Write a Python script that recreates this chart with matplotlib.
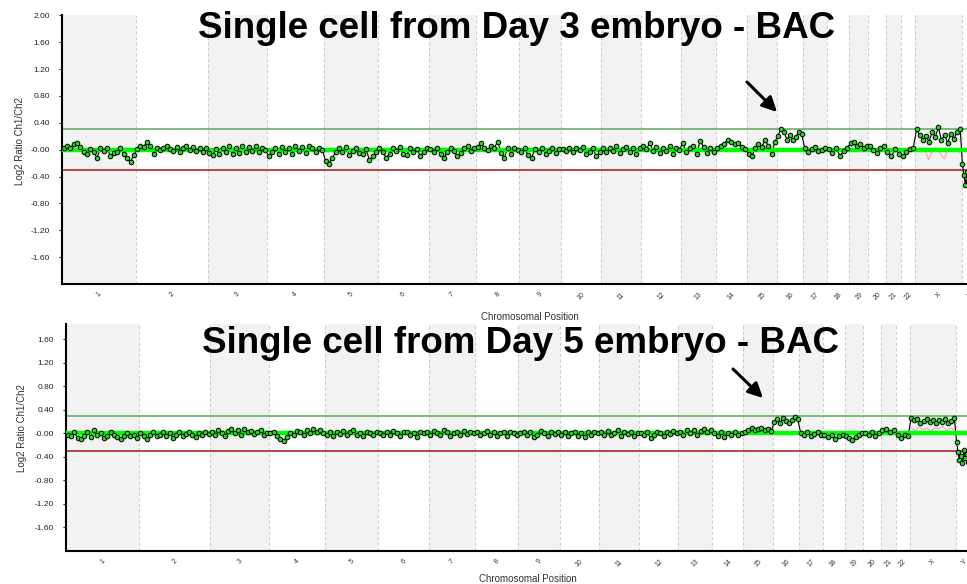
import numpy as np
import matplotlib
matplotlib.use('Agg')
import matplotlib.pyplot as plt
from matplotlib.patches import FancyArrowPatch

plt.rcParams['font.family'] = ['Liberation Sans', 'DejaVu Sans']

# chromosome names and (display) sizes in Mb
chrom_names = [str(i) for i in range(1, 23)] + ['X', 'Y']
chrom_size = [247, 243, 199, 191, 181, 171, 159, 146, 140, 135, 135, 133,
              116, 105, 100, 89, 80, 75, 64, 58, 52, 47, 157, 58]

# segment levels (thick green line), one per chromosome
seg_day3 = [0.0] * 24
seg_day5 = [0.0] * 24

# log2 ratio points per chromosome - Day 3 embryo
day3 = [
    [0.02, 0.05, 0.03, 0.08, 0.10, 0.04, -0.03, -0.06, 0.01, -0.04, -0.12, 0.02, -0.02, 0.03, -0.10, -0.05, -0.04, 0.02, -0.07, -0.12, -0.18, -0.08],
    [0.01, 0.06, 0.04, 0.12, 0.05, -0.06, 0.02, -0.01, 0.03, 0.05, 0.01, -0.02, 0.04, -0.03, 0.02, 0.06, 0.00, 0.04, -0.02, 0.03, -0.04, 0.02],
    [-0.05, -0.08, 0.01, -0.06, 0.03, -0.04, 0.05, -0.07, 0.02, -0.05, 0.06, -0.03, 0.04, -0.02, 0.05, -0.04, 0.03, -0.01],
    [-0.09, -0.04, 0.02, -0.06, 0.04, -0.03, 0.03, -0.07, 0.05, -0.02, 0.04, -0.05, 0.06, 0.02, -0.03, 0.03, 0.00],
    [-0.17, -0.21, -0.12, -0.04, 0.02, -0.03, 0.04, -0.08, -0.02, 0.03, -0.05, -0.07, 0.01, -0.15, -0.10, -0.03],
    [0.02, -0.04, -0.12, -0.06, 0.03, -0.02, 0.04, -0.06, -0.08, 0.02, -0.03, 0.01, -0.09, -0.04, 0.02],
    [0.01, -0.03, 0.03, -0.06, -0.12, -0.04, 0.02, -0.02, -0.10, -0.05, 0.03, 0.05, -0.02, 0.02],
    [0.04, 0.10, 0.02, -0.01, 0.05, 0.03, 0.12, -0.05, -0.12, 0.03, -0.06, 0.02, 0.00],
    [-0.03, 0.02, -0.08, -0.12, 0.01, -0.04, 0.03, -0.06, -0.02, 0.02, -0.05, 0.01],
    [0.01, -0.02, 0.03, -0.04, 0.02, -0.01, 0.04, -0.07, -0.03, 0.02, -0.10, -0.04],
    [0.02, -0.04, 0.03, -0.02, 0.05, -0.05, 0.01, 0.04, -0.03, 0.02, -0.06, 0.03],
    [0.05, 0.01, 0.10, -0.02, 0.04, -0.05, 0.02, -0.02, 0.06, -0.06, 0.03, 0.00],
    [0.10, -0.04, 0.02, 0.05, -0.07, 0.13, 0.04, -0.05, 0.02, -0.03],
    [0.02, 0.06, 0.09, 0.15, 0.12, 0.08, 0.10, 0.04, 0.01],
    [-0.06, -0.10, 0.02, 0.09, 0.04, 0.14, 0.06, -0.06, 0.12],
    [0.21, 0.31, 0.27, 0.15, 0.22, 0.14, 0.19, 0.26, 0.23],
    [0.02, -0.03, 0.01, 0.04, -0.02, 0.00, 0.03],
    [0.01, -0.05, 0.02, -0.09, -0.02, 0.03],
    [0.10, 0.12, 0.06, 0.09, 0.02, 0.05],
    [0.05, 0.00, -0.05, 0.03, 0.06],
    [-0.04, -0.10, 0.01, -0.06],
    [-0.09, -0.03, 0.01, 0.03],
    [0.30, 0.22, 0.15, 0.21, 0.12, 0.26, 0.19, 0.33, 0.14, 0.22, 0.10, 0.24, 0.16, 0.27, 0.31],
    [-0.22, -0.38, -0.52, -0.33, -0.47, -0.41, -0.30, -0.45, -0.36, -0.50, -0.28, -0.40],
]

# log2 ratio points per chromosome - Day 5 embryo
day5 = [
    [-0.02, -0.05, 0.02, -0.07, -0.10, -0.04, 0.03, -0.06, 0.05, -0.03, 0.01, -0.08, -0.04, 0.02, -0.03, -0.06, -0.09, -0.04, 0.01, -0.05, -0.02, -0.07],
    [0.00, -0.04, -0.10, -0.03, 0.02, -0.05, -0.02, 0.03, -0.04, 0.01, -0.07, -0.03, 0.02, -0.05, -0.01, 0.03, -0.02, -0.06, 0.01, -0.03, 0.02, -0.01],
    [0.02, -0.03, 0.05, 0.01, -0.04, 0.04, 0.07, 0.00, 0.05, -0.02, 0.08, 0.03, 0.04, -0.01, 0.02, 0.05, -0.03, 0.01],
    [0.00, 0.03, -0.05, -0.09, -0.13, -0.06, 0.01, -0.03, 0.04, 0.02, -0.02, 0.05, 0.01, 0.07, 0.03, 0.05, 0.01],
    [-0.02, 0.02, -0.04, 0.03, -0.01, 0.04, -0.03, 0.02, 0.05, -0.02, 0.01, -0.05, 0.02, 0.00, -0.03, 0.03],
    [0.01, -0.03, 0.03, -0.02, 0.04, 0.00, -0.05, 0.02, 0.03, -0.02, 0.01, -0.06, 0.02, 0.00, 0.03],
    [-0.02, 0.04, 0.01, -0.03, 0.05, 0.02, -0.04, 0.00, 0.03, -0.02, 0.04, -0.01, 0.02, 0.01],
    [0.02, -0.03, 0.01, 0.04, -0.02, 0.03, -0.05, 0.00, 0.02, -0.04, 0.03, 0.01, -0.02],
    [0.00, 0.03, -0.03, 0.02, -0.06, -0.02, 0.04, 0.01, -0.04, 0.02, -0.01, 0.03],
    [-0.03, 0.02, -0.05, 0.00, 0.03, -0.04, 0.01, -0.06, 0.02, -0.02, 0.03, 0.00],
    [0.02, -0.02, 0.04, -0.03, 0.01, 0.05, -0.04, 0.02, -0.01, 0.03, -0.05, 0.01],
    [0.00, -0.03, 0.02, -0.08, -0.02, 0.03, 0.01, -0.04, 0.02, -0.01, 0.04, 0.00],
    [0.03, -0.02, 0.05, 0.01, 0.06, -0.03, 0.04, 0.07, 0.02, 0.05],
    [0.00, -0.04, 0.02, -0.06, 0.01, -0.03, 0.03, -0.02, 0.01],
    [0.03, 0.06, 0.09, 0.05, 0.08, 0.10, 0.06, 0.07, 0.04],
    [0.19, 0.24, 0.18, 0.26, 0.21, 0.17, 0.23, 0.28, 0.25],
    [0.01, -0.03, 0.02, -0.05, -0.01, 0.03, -0.02],
    [-0.02, -0.06, -0.03, -0.09, -0.05, -0.02],
    [-0.04, -0.08, -0.11, -0.06, -0.03, 0.01],
    [0.01, -0.03, 0.02, -0.05, 0.00],
    [0.05, 0.08, 0.03, 0.06],
    [-0.03, -0.07, -0.02, -0.05],
    [0.27, 0.22, 0.24, 0.18, 0.21, 0.25, 0.19, 0.23, 0.17, 0.22, 0.20, 0.24, 0.18, 0.21, 0.26],
    [-0.15, -0.32, -0.46, -0.38, -0.50, -0.28, -0.42, -0.35, -0.48, -0.30, -0.44, -0.37],
]

# faint dye-swap trace on chromosome X (pink)
pink_x_day3 = [0.02, -0.04, 0.01, -0.15, -0.02, 0.03, -0.06, -0.14, 0.00, -0.03, 0.02, -0.05]
pink_x_day5 = [0.08, 0.05, 0.11, 0.06, 0.09, 0.04, 0.10, 0.07, 0.12, 0.05, 0.09, 0.06]

ytick_vals_top = [2.0, 1.6, 1.2, 0.8, 0.4, 0.0, -0.4, -0.8, -1.2, -1.6]
ytick_lbls_top = ['2.00', '1.60', '1.20', '0.80', '0.40', '-0.00', '-0.40', '-0.80', '-1.20', '-1.60']
ytick_vals_bot = ytick_vals_top[1:]
ytick_lbls_bot = ytick_lbls_top[1:]

gain_cut = 0.3
loss_cut = -0.3

titles = ['Single cell from Day 3 embryo - BAC', 'Single cell from Day 5 embryo - BAC']

W, H = 967, 584
fig = plt.figure(figsize=(W / 100, H / 100), dpi=100)

starts = np.concatenate([[0], np.cumsum(chrom_size)[:-1]])
ends = np.cumsum(chrom_size)
centers = starts + np.array(chrom_size) / 2
total = ends[-1]


def px_axes(left, right, top, bottom):
    return fig.add_axes([left / W, 1 - bottom / H, (right - left) / W, (bottom - top) / H])


def spread(i, vals):
    n = len(vals)
    return starts[i] + chrom_size[i] * (np.arange(n) + 0.5) / n


def draw_panel(ax, pts, seg, pink_x, ylo, yhi, yt, ytl, xlab_xy, ylab_xy):
    for i in range(len(chrom_size)):
        if i % 2 == 0:
            ax.axvspan(starts[i], ends[i], color='#f2f2f2', lw=0, zorder=0)
        ax.axvline(ends[i], color='#cfcfcf', lw=0.8, ls=(0, (3, 2)), zorder=1)
    ax.axhline(gain_cut, color='#5aaa5a', lw=1.1, zorder=2)
    ax.axhline(loss_cut, color='#a51515', lw=1.1, zorder=2)

    ax.plot(spread(22, pink_x), pink_x, color='#f0a8b8', lw=0.8, zorder=2)

    xs, ys = [], []
    for i, vals in enumerate(pts):
        xs.extend(spread(i, vals))
        ys.extend(vals)
    ax.plot(xs, ys, color='black', lw=0.8, zorder=3)
    ax.hlines(seg, starts, ends, color='#00ff00', lw=3.2, zorder=4)
    ax.plot(xs, ys, ls='none', marker='o', markersize=3.3,
            markerfacecolor='#1fdc1f', markeredgecolor='black', markeredgewidth=0.7, zorder=5)

    ax.set_xlim(0, total)
    ax.set_ylim(ylo, yhi)
    ax.set_xticks(centers)
    ax.set_xticklabels(chrom_names)
    ax.set_yticks(yt)
    ax.set_yticklabels(ytl)
    ax.tick_params(axis='x', length=0, labelsize=5, labelrotation=45, pad=5, colors='#333333')
    ax.tick_params(axis='y', length=2, width=0.8, labelsize=6, pad=6.5, colors='#222222')
    for s in ['top', 'right']:
        ax.spines[s].set_visible(False)
    for s in ['left', 'bottom']:
        ax.spines[s].set_linewidth(1.5)
        ax.spines[s].set_color('black')
    ax.set_xlabel('Chromosomal Position', fontsize=7, color='#333333')
    ax.xaxis.set_label_coords(*xlab_xy)
    ax.set_ylabel('Log2 Ratio Ch1/Ch2', fontsize=7, color='#333333')
    ax.yaxis.set_label_coords(*ylab_xy)


ax1 = px_axes(62, 979, 15.3, 284)
draw_panel(ax1, day3, seg_day3, pink_x_day3, -2.0, 2.0, ytick_vals_top, ytick_lbls_top,
           (0.510, -0.104), (-0.040, 0.532))

ax2 = px_axes(66, 973, 324, 551)
draw_panel(ax2, day5, seg_day5, pink_x_day5, -2.0, 1.86, ytick_vals_bot, ytick_lbls_bot,
           (0.509, -0.102), (-0.043, 0.541))

fig.text(517 / W, 1 - 38.5 / H, titles[0], fontsize=26.5, fontweight='bold',
         ha='center', va='baseline')
fig.text(520 / W, 1 - 353 / H, titles[1], fontsize=26.5, fontweight='bold',
         ha='center', va='baseline')

arrow = dict(arrowstyle='-|>', lw=2.2, color='black', mutation_scale=22, shrinkA=0, shrinkB=0)
fig.add_artist(FancyArrowPatch((747 / W, 1 - 82 / H), (777 / W, 1 - 112 / H),
                               transform=fig.transFigure, **arrow))
fig.add_artist(FancyArrowPatch((733 / W, 1 - 369 / H), (763 / W, 1 - 398 / H),
                               transform=fig.transFigure, **arrow))

fig.savefig('out.png', dpi=100)
